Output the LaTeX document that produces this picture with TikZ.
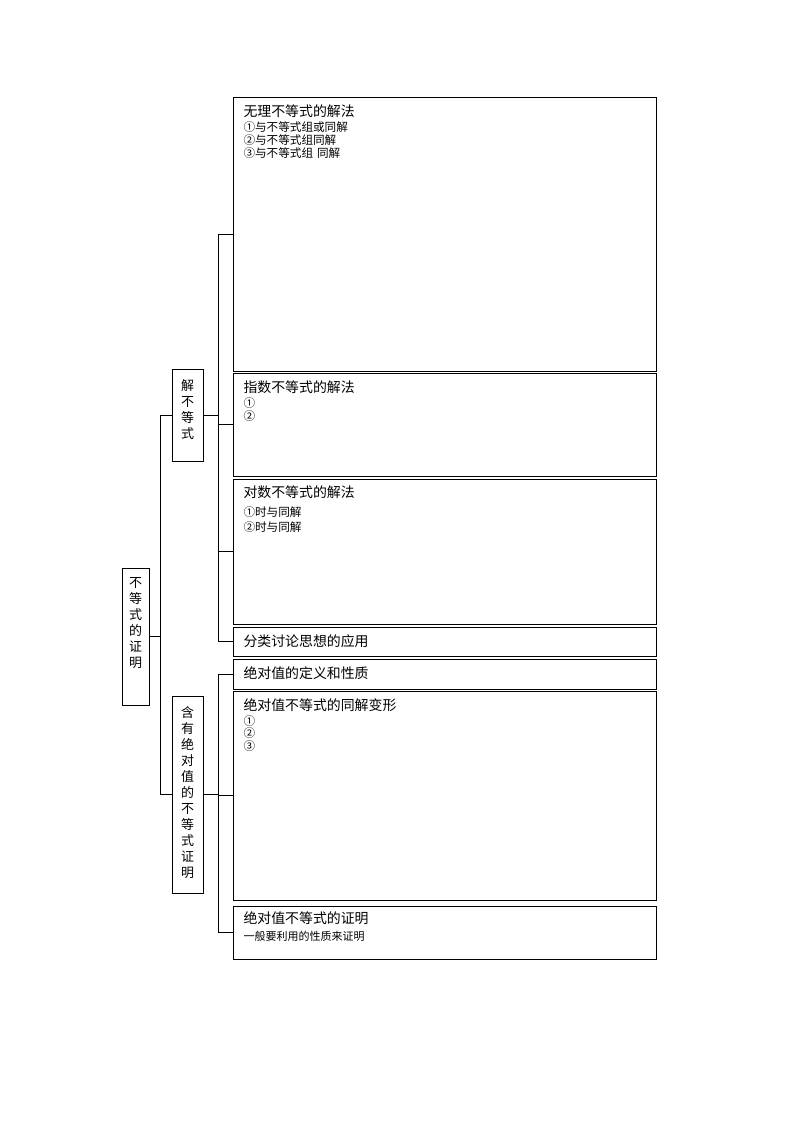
\documentclass[tikz,border=0pt]{standalone}
\usepackage{fontspec}
\newfontfamily\cjk{Noto Sans CJK SC}
\begin{document}
\begin{tikzpicture}[x=1pt,y=-1pt,
  line width=1pt,
  box/.style={draw, rectangle, inner sep=0pt, outer sep=0pt, anchor=north west},
  ttl/.style={anchor=west, inner sep=0pt, yshift=-2pt, font=\cjk\fontsize{13.9}{16}\selectfont, text height=0.88em, text depth=0.12em},
  sub/.style={anchor=west, inner sep=0pt, yshift=-1.5pt, font=\cjk\fontsize{11.6}{13}\selectfont, text height=0.88em, text depth=0.12em},
  vtxt/.style={inner sep=0pt, align=center, anchor=center, font=\cjk\fontsize{13}{16}\selectfont}
]
\useasboundingbox (0,0) rectangle (800,1132);
\fill[white] (0,0) rectangle (800,1132);

% left boxes
\node[box, minimum width=27pt, minimum height=137pt] (root) at (122,568) {};
\node[box, minimum width=31pt, minimum height=92pt] (jie) at (172,369) {};
\node[box, minimum width=31pt, minimum height=197pt] (han) at (172,696) {};

\node[vtxt] (roott) at (135.5,623.5) {不\\等\\式\\的\\证\\明};
\node[vtxt] (jiet) at (187.5,409.5) {解\\不\\等\\式};
\node[vtxt] (hant) at (187.5,793) {含\\有\\绝\\对\\值\\的\\不\\等\\式\\证\\明};

% right boxes
\node[box, minimum width=423pt, minimum height=274pt] (b1) at (233,97) {};
\node[box, minimum width=423pt, minimum height=103pt] (b2) at (233,373) {};
\node[box, minimum width=423pt, minimum height=145pt] (b3) at (233,479) {};
\node[box, minimum width=423pt, minimum height=29pt] (b4) at (233,627) {};
\node[box, minimum width=423pt, minimum height=30pt] (b5) at (233,659) {};
\node[box, minimum width=423pt, minimum height=209pt] (b6) at (233,691) {};
\node[box, minimum width=423pt, minimum height=53pt] (b7) at (233,906) {};

% texts
\node[ttl] (t1) at (243,111) {无理不等式的解法};
\node[sub] (t1a) at (243,126) {①与不等式组或同解};
\node[sub] (t1b) at (243,139) {②与不等式组同解};
\node[sub] (t1c) at (243,152) {③与不等式组\hspace{4pt}同解};

\node[ttl] (t2) at (243,387) {指数不等式的解法};
\node[sub] (t2a) at (243,402) {①};
\node[sub] (t2b) at (243,415) {②};

\node[ttl] (t3) at (243,492) {对数不等式的解法};
\node[sub] (t3a) at (243,511) {①时与同解};
\node[sub] (t3b) at (243,526) {②时与同解};

\node[ttl] (t4) at (243,641) {分类讨论思想的应用};
\node[ttl] (t5) at (243,673) {绝对值的定义和性质};

\node[ttl] (t6) at (243,705) {绝对值不等式的同解变形};
\node[sub] (t6a) at (243,720) {①};
\node[sub] (t6b) at (243,732.5) {②};
\node[sub] (t6c) at (243,745) {③};

\node[ttl] (t7) at (243,918) {绝对值不等式的证明};
\node[sub, font=\cjk\fontsize{11}{13}\selectfont] (t7a) at (243,935) {一般要利用的性质来证明};

% connectors
\coordinate (j0) at (160,636.5);
\coordinate (j1) at (218,415);
\coordinate (j2) at (218,794.5);

\draw (root.east) -- (j0);
\draw (jie.west) -| (j0);
\draw (han.west) -| (j0);

\draw (jie.east) -- (j1);
\draw (b1.west) -| (j1);
\draw (b2.west) -| (j1);
\draw (b3.west) -| (j1);
\draw (b4.west) -| (j1);

\draw (han.east) -- (j2);
\draw (b5.west) -| (j2);
\draw (b6.west) -| (j2);
\draw (b7.west) -| (j2);
\end{tikzpicture}
\end{document}
